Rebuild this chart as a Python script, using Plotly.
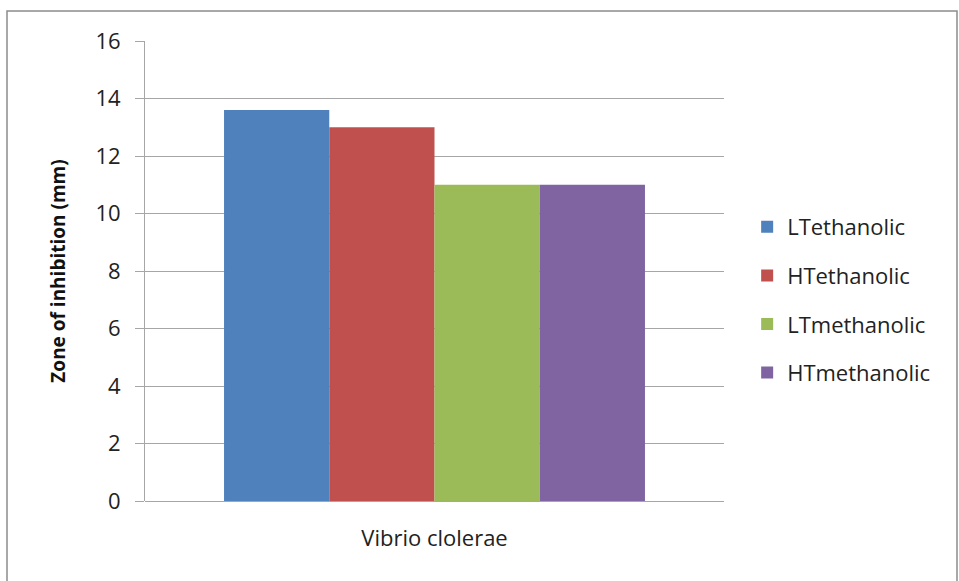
import plotly.graph_objects as go

# Zone of inhibition against Vibrio cholerae for four extracts
categories = ["Vibrio clolerae"]
series_names = ["LTethanolic", "HTethanolic", "LTmethanolic", "HTmethanolic"]
series_values = [[13.6], [13.0], [11.0], [11.0]]
series_colors = ["#4F81BD", "#C0504D", "#9BBB59", "#8064A2"]
y_ticks = [0, 2, 4, 6, 8, 10, 12, 14, 16]

fig = go.Figure()
for i, (name, vals, col) in enumerate(zip(series_names, series_values, series_colors)):
    fig.add_trace(go.Bar(
        x=categories, y=vals, name=name,
        marker=dict(color=col, line=dict(width=0)),
        legendgroup=f"g{i}",
    ))

W, H = 959, 581
ml, mr, mt, mb = 145, 235, 41, 80
pw, ph = W - ml - mr, H - mt - mb

def px_x(px):
    return (px - ml) / pw

def px_y(py):
    return (H - mb - py) / ph

fig.update_layout(
    width=W, height=H,
    margin=dict(l=ml, r=mr, t=mt, b=mb),
    paper_bgcolor="white", plot_bgcolor="white",
    barmode="group", bargap=0.273, bargroupgap=0,
    font=dict(family="Open Sans, sans-serif", color="#222"),
    showlegend=True,
    legend=dict(
        x=1.04, y=px_y(300), xanchor="left", yanchor="middle",
        font=dict(size=22, family="Open Sans, sans-serif", color="#222"),
        tracegroupgap=17, traceorder="grouped",
        itemwidth=30,
    ),
    xaxis=dict(
        showgrid=False, showline=False, ticks="",
        tickfont=dict(size=22, family="Open Sans, sans-serif", color="#222"),
        ticklabelstandoff=22,
        range=[-0.5, 0.5],
    ),
    yaxis=dict(
        range=[0, 16], tickvals=y_ticks,
        showgrid=True, gridcolor="#A6A6A6", gridwidth=1,
        showline=True, linecolor="#A6A6A6", linewidth=1,
        ticks="outside", ticklen=9, tickcolor="#A6A6A6",
        tickfont=dict(size=22, color="#222"),
        ticklabelstandoff=10,
        zeroline=True, zerolinecolor="#A6A6A6", zerolinewidth=1,
        title=dict(text="<b>Zone of inhibition (mm)</b>",
                   font=dict(size=19, family="Open Sans, sans-serif", color="#111"),
                   standoff=24),
    ),
    shapes=[dict(
        type="rect", xref="paper", yref="paper",
        x0=px_x(7), x1=px_x(957), y0=px_y(590), y1=px_y(11),
        line=dict(color="#8C8C8C", width=1.5), layer="below",
    )],
)

fig.write_html("out.html")
